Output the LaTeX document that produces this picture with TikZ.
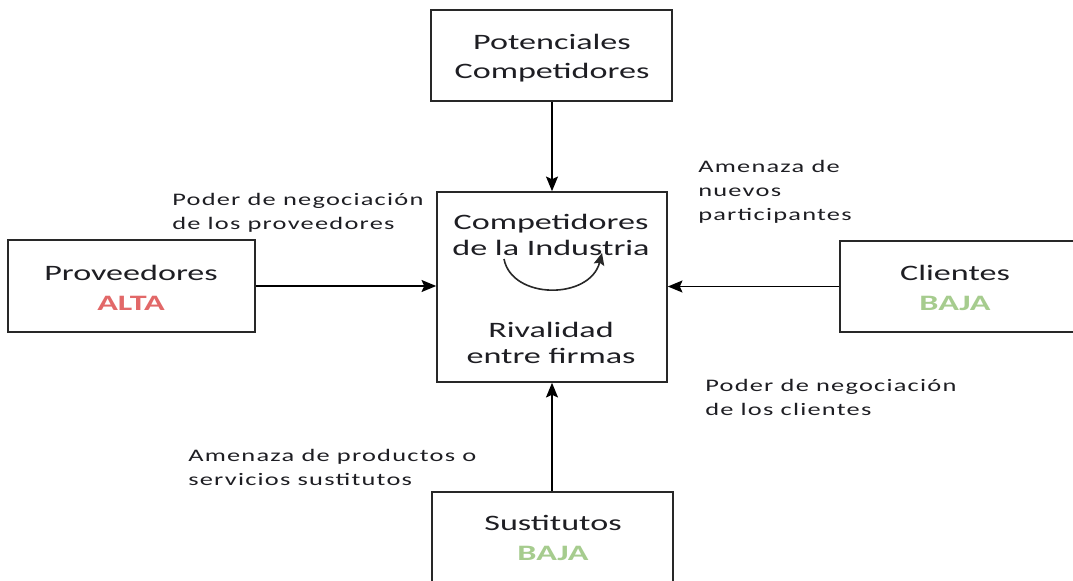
\documentclass[tikz,border=0pt]{standalone}
\usepackage{fontspec}
\setmainfont{Carlito}[FakeStretch=1.55]
\newfontfamily\labfont{Carlito}[FakeStretch=1.5,LetterSpace=7]
\usetikzlibrary{arrows.meta}
\definecolor{txt}{RGB}{30,30,35}
\definecolor{alta}{RGB}{226,104,104}
\definecolor{baja}{RGB}{166,204,142}
\definecolor{edge}{RGB}{40,40,40}
\tikzset{
  box/.style={draw=edge,line width=1.2pt,fill=white,inner sep=0pt},
  arr/.style={draw=black,line width=1.1pt,-{Stealth[length=11pt,width=9pt,inset=2pt]}},
  maintext/.style={text=txt,font=\fontsize{16.5}{20}\selectfont,align=center},
  lab/.style={text=txt,font=\labfont\fontsize{13.2}{18}\selectfont,align=left,anchor=north west,inner sep=0pt},
}
\begin{document}
\begin{tikzpicture}[x=0.75pt,y=-0.75pt]
\useasboundingbox (0,0) rectangle (1073,581);
% boxes
\node[box,minimum width=241*0.75pt,minimum height=91*0.75pt] (top) at (551.5,55.5) {};
\node[box,minimum width=230*0.75pt,minimum height=190*0.75pt] (center) at (552,287) {};
\node[box,minimum width=247*0.75pt,minimum height=92*0.75pt] (left) at (131.5,286) {};
\node[box,minimum width=245*0.75pt,minimum height=91*0.75pt] (right) at (962.5,286.5) {};
\node[box,minimum width=241*0.75pt,minimum height=110*0.75pt] (bottom) at (552.5,547) {};
% box texts
\node[maintext,font=\fontsize{16.5}{22}\selectfont] (ttext) at (552,58) {Potenciales\\Competidores};
\node[maintext] (ctext1) at (551,235) {Competidores\\de la Industria};
\node[maintext] (ctext2) at (551,343) {Rivalidad\\entre firmas};
\node[maintext,font=\fontsize{16.5}{22}\selectfont] (ltext) at (131,288) {Proveedores\\\textcolor{alta}{\textbf{ALTA}}};
\node[maintext,font=\fontsize{16.5}{22}\selectfont] (rtext) at (955,288) {Clientes\\\textcolor{baja}{\textbf{BAJA}}};
\node[maintext,font=\fontsize{16.5}{22}\selectfont] (btext) at (553,538) {Sustitutos\\\textcolor{baja}{\textbf{BAJA}}};
% connectors
\draw[arr] (top.south -| center.north) -- (center.north);
\draw[arr] (bottom.north -| center.south) -- (center.south);
\draw[arr] (left.east) -- (center.west |- left.east);
\draw[arr] (right.west) -- (center.east |- right.west);
% rivalry arc
\coordinate (a1) at (504,259);
\coordinate (a2) at (602,253);
\draw[line width=1.2pt,edge,-{Stealth[length=9pt,width=8pt,inset=1.5pt]}] (a1) .. controls (512,300) and (590,300) .. (a2);
% labels
\node[lab] (l1) at (172,193) {Poder de negociación\\de los proveedores};
\node[lab] (l2) at (698,160) {Amenaza de\\nuevos\\participantes};
\node[lab] (l3) at (705,379) {Poder de negociación\\de los clientes};
\node[lab] (l4) at (188,449) {Amenaza de productos o\\servicios sustitutos};
\end{tikzpicture}
\end{document}
